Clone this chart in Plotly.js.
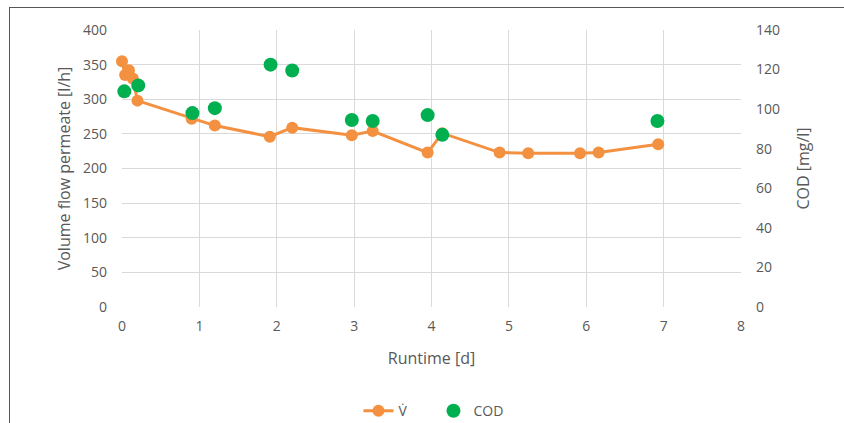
<!DOCTYPE html>
<html>
<head>
<meta charset="utf-8">
<script src="https://cdn.plot.ly/plotly-3.0.1.min.js"></script>
<style>
html,body{margin:0;padding:0;background:#fff;}
#wrap{position:relative;width:844px;height:423px;overflow:hidden;}
#chart{width:844px;height:423px;}
#frame{position:absolute;left:9px;top:7px;width:840px;height:420px;border-left:1px solid #555;border-top:1px solid #555;pointer-events:none;}
</style>
</head>
<body>
<div id="wrap"><div id="chart"></div><div id="frame"></div></div>
<script>
const flowTime = [0, 0.04, 0.09, 0.14, 0.2, 0.9, 1.2, 1.91, 2.2, 2.97, 3.24, 3.95, 4.14, 4.88, 5.25, 5.92, 6.16, 6.93];
const flowValue = [355, 335, 342, 330, 298, 272, 262, 246, 259, 248, 254, 223, 251, 223, 222, 222, 223, 235];
const codTime = [0.03, 0.21, 0.91, 1.2, 1.92, 2.2, 2.97, 3.24, 3.95, 4.14, 6.92];
const codValue = [109, 112, 98, 100.5, 122.5, 119.5, 94.5, 94, 97, 87, 94];

const tickFont = {family: 'Open Sans, sans-serif', size: 14, color: '#595959'};
const titleFont = {family: 'Open Sans, sans-serif', size: 16, color: '#595959'};

const traces = [
  {x: flowTime, y: flowValue, name: 'V\u0307', type: 'scatter', mode: 'lines+markers', cliponaxis: false,
   line: {color: '#f39141', width: 3}, marker: {color: '#f39141', size: 12}},
  {x: codTime, y: codValue, name: 'COD', type: 'scatter', mode: 'markers', yaxis: 'y2', cliponaxis: false,
   marker: {color: '#00b050', size: 14}}
];

const layout = {
  width: 844, height: 423,
  margin: {l: 122, r: 103, t: 30, b: 116},
  paper_bgcolor: '#fff', plot_bgcolor: '#fff',
  showlegend: true,
  legend: {orientation: 'h', xref: 'container', yref: 'container', x: 0.5136, xanchor: 'center',
           y: 0.028, yanchor: 'middle', entrywidth: 30,
           font: {family: 'Open Sans, sans-serif', size: 14, color: '#595959'}},
  xaxis: {range: [0, 8], dtick: 1, showgrid: true, gridcolor: '#d9d9d9', gridwidth: 1,
          zeroline: false, showline: false, tickfont: tickFont, ticks: '', automargin: false,
          ticklabelstandoff: 9,
          title: {text: 'Runtime [d]', font: titleFont, standoff: 18}},
  yaxis: {range: [0, 400], dtick: 50, showgrid: true, gridcolor: '#d9d9d9', gridwidth: 1,
          zeroline: false, showline: false, tickfont: tickFont, ticks: '', automargin: false,
          ticklabelstandoff: 14,
          title: {text: 'Volume flow permeate [l/h]', font: titleFont, standoff: 8}},
  yaxis2: {range: [0, 140], dtick: 20, overlaying: 'y', side: 'right', showgrid: false,
           zeroline: false, showline: false, tickfont: tickFont, ticks: '', automargin: false,
           ticklabelstandoff: 14,
           title: {text: 'COD [mg/l]', font: titleFont, standoff: 18}}
};

Plotly.newPlot('chart', traces, layout, {displayModeBar: false, staticPlot: true});
</script>
</body>
</html>
